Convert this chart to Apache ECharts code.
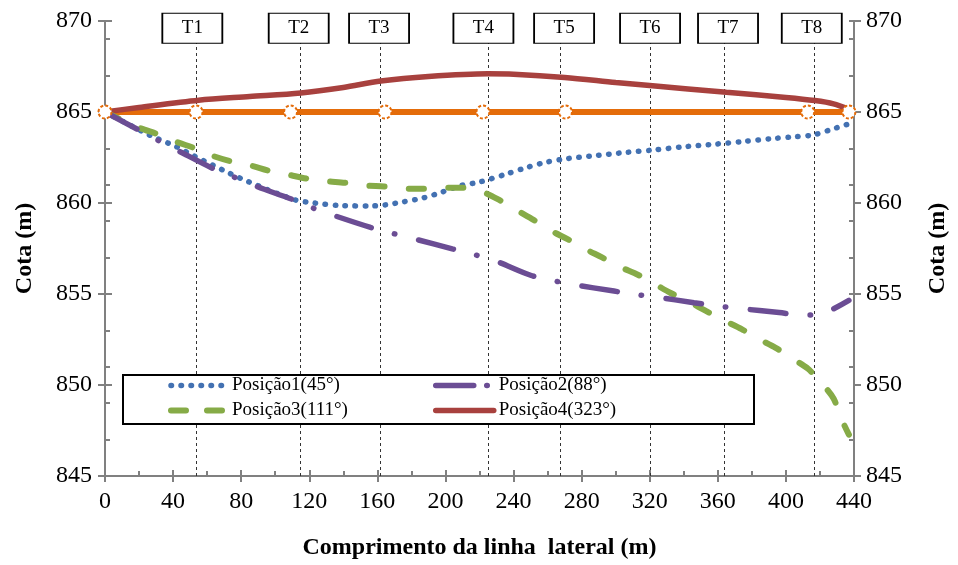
<!DOCTYPE html>
<html><head><meta charset="utf-8">
<script src="https://cdn.jsdelivr.net/npm/echarts@6/dist/echarts.min.js"></script>
<style>html,body{margin:0;padding:0;background:#fff}#c{width:958px;height:565px}</style>
</head><body><div id="c"></div>
<script>
// ---- data ----
const seriesNames = ['Posição1(45°)', 'Posição2(88°)', 'Posição3(111°)', 'Posição4(323°)'];
const xAxisName = 'Comprimento da linha  lateral (m)';
const yAxisName = 'Cota (m)';

const pos1X = [0, 26, 42, 52, 73, 84, 111, 123, 140, 157, 165, 175, 187, 198, 209, 220, 236, 248, 259, 270, 288, 306, 323, 340, 358, 375, 392, 404, 416, 427, 437];
const pos1Y = [865, 863.74, 863.09, 862.6, 861.64, 861.18, 860.19, 860.0, 859.85, 859.84, 859.9, 860.06, 860.28, 860.6, 860.96, 861.15, 861.6, 861.96, 862.24, 862.42, 862.6, 862.78, 862.92, 863.09, 863.23, 863.38, 863.54, 863.63, 863.74, 864.05, 864.35];

const pos2X = [0, 20, 32, 43, 64, 76, 89, 110, 122, 134, 156, 169, 182, 204, 216, 229, 250, 263, 275, 299, 311, 324, 346, 360, 373, 396, 409, 417, 425, 437];
const pos2Y = [865, 864.0, 863.4, 862.87, 861.87, 861.42, 860.91, 860.2, 859.73, 859.33, 858.66, 858.33, 858.02, 857.48, 857.19, 856.83, 856.03, 855.74, 855.52, 855.16, 854.98, 854.83, 854.52, 854.34, 854.2, 853.98, 853.84, 853.85, 854.05, 854.65];

const pos3X = [0, 20, 31, 42, 53, 63, 74, 86, 96, 108, 119, 130, 141, 153, 164, 176, 187, 199, 210, 222, 232, 242, 252, 262, 272, 282, 292, 303, 313, 324, 332, 344, 353, 364, 374, 384, 394, 404, 413, 421, 428, 432, 437];
const pos3Y = [865, 864.14, 863.78, 863.36, 863.0, 862.6, 862.29, 862.05, 861.78, 861.55, 861.33, 861.2, 861.11, 860.96, 860.91, 860.8, 860.78, 860.84, 860.84, 860.6, 860.15, 859.6, 859.06, 858.48, 858.0, 857.48, 857.01, 856.47, 856.06, 855.49, 855.07, 854.52, 854.07, 853.53, 853.07, 852.53, 852.04, 851.44, 850.89, 850.1, 849.26, 848.26, 847.27];

const pos4X = [0, 20, 55, 85, 115, 140, 162, 190, 225, 240, 270, 300, 320, 365, 400, 417, 428, 437];
const pos4Y = [865, 865.25, 865.65, 865.85, 866.05, 866.35, 866.7, 866.95, 867.1, 867.08, 866.9, 866.62, 866.45, 866.08, 865.8, 865.63, 865.45, 865.15];

const refX = [0, 53.5, 109, 164.5, 222, 270.5, 412.8, 437];
const refY = [865, 865, 865, 865, 865, 865, 865, 865];

const tLabels = ['T1', 'T2', 'T3', 'T4', 'T5', 'T6', 'T7', 'T8'];
const tLineX = [53.5, 114.6, 161.6, 225.2, 267.6, 320.2, 364, 416.8];
const tBoxX = [51.3, 113.8, 161, 222.3, 269.7, 320.2, 366, 415.2];
const tBoxY = [869.6, 869.6, 869.6, 869.6, 869.6, 869.6, 869.6, 869.6];

// ---- chart ----
const FONT = "'Liberation Serif', 'Times New Roman', serif";
const AX = '#808080';
const zip = (xs, ys) => xs.map((x, i) => [x, ys[i]]);

const chart = echarts.init(document.getElementById('c'), null, {renderer: 'canvas'});

const baseX = {type: 'value', min: 0, max: 440, interval: 40, splitLine: {show: false}};
const baseY = {type: 'value', min: 845, max: 870, interval: 5, splitLine: {show: false}};

const legendCommon = {
  orient: 'vertical', top: 375, padding: 0, itemGap: 4, itemHeight: 14,
  textStyle: {color: '#000', fontSize: 19, fontFamily: FONT, lineHeight: 21},
  itemStyle: {opacity: 0},
  lineStyle: {width: 'inherit', type: 'inherit', cap: 'inherit'},
  z: 10
};

const option = {
  animation: false,
  backgroundColor: '#fff',
  textStyle: {fontFamily: FONT},
  grid: {left: 105, right: 100, top: 21, bottom: 85, containLabel: false},
  xAxis: [
    Object.assign({}, baseX, {
      position: 'bottom',
      axisLine: {show: true, lineStyle: {color: AX, width: 2}},
      axisTick: {show: true, inside: false, length: 6, lineStyle: {color: AX, width: 2}},
      axisLabel: {show: true, margin: 14, color: '#000', fontSize: 24, fontFamily: FONT},
      name: xAxisName, nameLocation: 'middle', nameGap: 60,
      nameTextStyle: {color: '#000', fontSize: 24, fontWeight: 'bold', fontFamily: FONT}
    }),
    Object.assign({}, baseX, {
      position: 'bottom',
      axisLine: {show: false},
      axisTick: {show: true, inside: true, length: 6, lineStyle: {color: AX, width: 2}},
      minorTick: {show: true, splitNumber: 2, length: 5, lineStyle: {color: AX, width: 2}},
      axisLabel: {show: false}
    })
  ],
  yAxis: [
    Object.assign({}, baseY, {
      position: 'left',
      axisLine: {show: true, lineStyle: {color: AX, width: 2}},
      axisTick: {show: true, inside: false, length: 7, lineStyle: {color: AX, width: 2}},
      axisLabel: {show: true, margin: 13, color: '#000', fontSize: 24, fontFamily: FONT},
      name: yAxisName, nameLocation: 'middle', nameGap: 68, nameRotate: 90,
      nameTextStyle: {color: '#000', fontSize: 24, fontWeight: 'bold', fontFamily: FONT}
    }),
    Object.assign({}, baseY, {
      position: 'left',
      axisLine: {show: false},
      axisTick: {show: true, inside: true, length: 7, lineStyle: {color: AX, width: 2}},
      axisLabel: {show: false}
    }),
    Object.assign({}, baseY, {
      position: 'left', interval: 2,
      axisLine: {show: false},
      axisTick: {show: true, inside: true, length: 5, lineStyle: {color: AX, width: 2}},
      axisLabel: {show: false}
    }),
    Object.assign({}, baseY, {
      position: 'right',
      axisLine: {show: true, lineStyle: {color: AX, width: 2}},
      axisTick: {show: true, inside: false, length: 7, lineStyle: {color: AX, width: 2}},
      axisLabel: {show: true, margin: 12, color: '#000', fontSize: 24, fontFamily: FONT},
      name: yAxisName, nameLocation: 'middle', nameGap: 72, nameRotate: 90,
      nameTextStyle: {color: '#000', fontSize: 24, fontWeight: 'bold', fontFamily: FONT}
    }),
    Object.assign({}, baseY, {
      position: 'right', interval: 2,
      axisLine: {show: false},
      axisTick: {show: true, inside: true, length: 5, lineStyle: {color: AX, width: 2}},
      axisLabel: {show: false}
    })
  ],
  legend: [
    Object.assign({}, legendCommon, {
      data: [
        {name: seriesNames[0]},
        {name: seriesNames[2], lineStyle: {type: [15, 21]}}
      ],
      left: 168, itemWidth: 56
    }),
    Object.assign({}, legendCommon, {
      data: [
        {name: seriesNames[1], lineStyle: {type: [38, 13, 0.5, 20]}},
        {name: seriesNames[3]}
      ],
      left: 433, itemWidth: 58
    })
  ],
  graphic: [{
    type: 'rect', left: 122, top: 374, z: 3,
    shape: {width: 631, height: 49},
    style: {fill: '#fff', stroke: '#000', lineWidth: 2}
  }],
  series: [
    {
      name: 'Tbox', type: 'scatter', z: 6, clip: false, silent: true,
      data: tBoxX.map((x, i) => ({value: [x, tBoxY[i]], name: tLabels[i]})),
      symbol: 'rect', symbolSize: [60, 30],
      itemStyle: {color: '#fff', borderColor: '#000', borderWidth: 1.3, opacity: 1},
      label: {show: true, position: 'inside', formatter: p => p.name, color: '#000', fontSize: 19, fontFamily: FONT},
      markLine: {
        z: 1, silent: true, symbol: 'none', animation: false,
        label: {show: false},
        lineStyle: {color: '#333', width: 1, type: [3, 3]},
        data: tLineX.map(x => ({xAxis: x}))
      }
    },
    {
      name: 'ref', type: 'line', z: 2,
      data: zip(refX, refY),
      symbol: 'circle', symbolSize: 13, showSymbol: true,
      itemStyle: {color: '#fff', borderColor: '#E46C0A', borderWidth: 2, borderType: [3, 2]},
      lineStyle: {color: '#E46C0A', width: 6}
    },
    {
      name: seriesNames[3], type: 'line', z: 2, smooth: 0.3,
      data: zip(pos4X, pos4Y), symbol: 'none',
      itemStyle: {color: '#A8413E'},
      lineStyle: {color: '#A8413E', width: 5.5, cap: 'round'}
    },
    {
      name: seriesNames[0], type: 'line', z: 2, smooth: 0.3,
      data: zip(pos1X, pos1Y), symbol: 'none',
      itemStyle: {color: '#4371B2'},
      lineStyle: {color: '#4371B2', width: 5.5, type: [0.5, 9.5], cap: 'round'}
    },
    {
      name: seriesNames[2], type: 'line', z: 2, smooth: 0.3,
      data: zip(pos3X, pos3Y), symbol: 'none',
      itemStyle: {color: '#86AB47'},
      lineStyle: {color: '#86AB47', width: 6, type: [15, 24.5], cap: 'round'}
    },
    {
      name: seriesNames[1], type: 'line', z: 2, smooth: 0.3,
      data: zip(pos2X, pos2Y), symbol: 'none',
      itemStyle: {color: '#6B4D94'},
      lineStyle: {color: '#6B4D94', width: 5.5, type: [36, 24, 0.5, 24.5], cap: 'round'}
    }
  ]
};
chart.setOption(option);
</script>
</body></html>
